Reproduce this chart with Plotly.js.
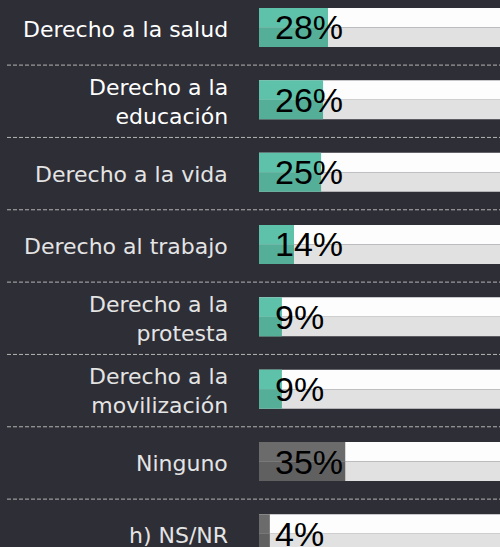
<!DOCTYPE html>
<html>
<head>
<meta charset="utf-8">
<script src="https://cdn.plot.ly/plotly-3.0.1.min.js"></script>
<style>
html,body{margin:0;padding:0;background:#2e2e36;}
#chart{width:500px;height:547px;}
</style>
</head>
<body>
<div id="chart"></div>
<script>
// ---- data ----
const categories = ['Derecho a la salud', 'Derecho a la educación', 'Derecho a la vida', 'Derecho al trabajo',
  'Derecho a la protesta', 'Derecho a la movilización', 'Ninguno', 'h) NS/NR'];
const categoryLabels = ['Derecho a la salud', 'Derecho a la<br>educación', 'Derecho a la vida', 'Derecho al trabajo',
  'Derecho a la<br>protesta', 'Derecho a la<br>movilización', 'Ninguno', 'h) NS/NR'];
const values = [28, 26, 25.2, 14.2, 9.3, 9.3, 35, 4.4];
const valueLabels = ['28%', '26%', '25%', '14%', '9%', '9%', '35%', '4%'];
const trackMax = 100;
const highlighted = ['Derecho a la salud', 'Derecho a la educación'];
const neutralCats = ['Ninguno', 'h) NS/NR'];

// ---- styles ----
const BG = '#2e2e36';
const half = 0.27;
const topColors = categories.map(c => neutralCats.includes(c) ? '#6b6b6b' : '#5ec1a9');
const botColors = categories.map(c => neutralCats.includes(c) ? '#606060' : '#54ae98');

const tracks = categories.map(() => trackMax);

const traces = [
  {type: 'bar', orientation: 'h', y: categories, x: tracks, width: half, offset: -half,
   marker: {color: '#fdfdfd', line: {width: 0}}, hoverinfo: 'skip'},
  {type: 'bar', orientation: 'h', y: categories, x: tracks, width: half, offset: 0,
   marker: {color: '#e1e1e1', line: {width: 0}}, hoverinfo: 'skip'},
  {type: 'bar', orientation: 'h', y: categories, x: values, width: half, offset: -half,
   marker: {color: topColors, line: {width: 0}}, hoverinfo: 'skip'},
  {type: 'bar', orientation: 'h', y: categories, x: values, width: half, offset: 0,
   marker: {color: botColors, line: {width: 0}}, hoverinfo: 'skip'}
];

const annotations = [];
categories.forEach((c, i) => {
  annotations.push({
    xref: 'x', yref: 'y', x: 0, y: c, xanchor: 'left', yanchor: 'middle',
    xshift: 14, yshift: 0, showarrow: false, text: valueLabels[i],
    font: {family: 'Liberation Sans, Arial, sans-serif', size: 34, color: '#000000'}
  });
  annotations.push({
    xref: 'paper', yref: 'y', x: 0, y: c, xanchor: 'right', yanchor: 'middle', align: 'right',
    xshift: -29, yshift: -2, showarrow: false, text: categoryLabels[i],
    font: {family: 'DejaVu Sans, sans-serif', size: 22,
           color: highlighted.includes(c) ? '#ffffff' : '#e4e4e4'}
  });
});

const plotLeft = 259, plotWidth = 241;
const shapes = [];
for (let k = 0; k < categories.length - 1; k++) {
  shapes.push({
    type: 'line', xref: 'paper', yref: 'y',
    x0: (7 - plotLeft) / plotWidth, x1: 1, y0: k + 0.52, y1: k + 0.52,
    line: {color: '#b4b4b4', width: 1, dash: '4px,2px'}
  });
}

const layout = {
  width: 500, height: 547,
  margin: {l: plotLeft, r: 0, t: 0, b: 0, pad: 0},
  paper_bgcolor: BG, plot_bgcolor: BG,
  barmode: 'overlay',
  showlegend: false,
  xaxis: {range: [0, 97.8], visible: false, fixedrange: true},
  yaxis: {type: 'category', categoryorder: 'array', categoryarray: categories,
          range: [7.182, -0.38], visible: false, fixedrange: true},
  annotations: annotations,
  shapes: shapes
};

Plotly.newPlot('chart', traces, layout, {displayModeBar: false, staticPlot: true});
</script>
</body>
</html>
